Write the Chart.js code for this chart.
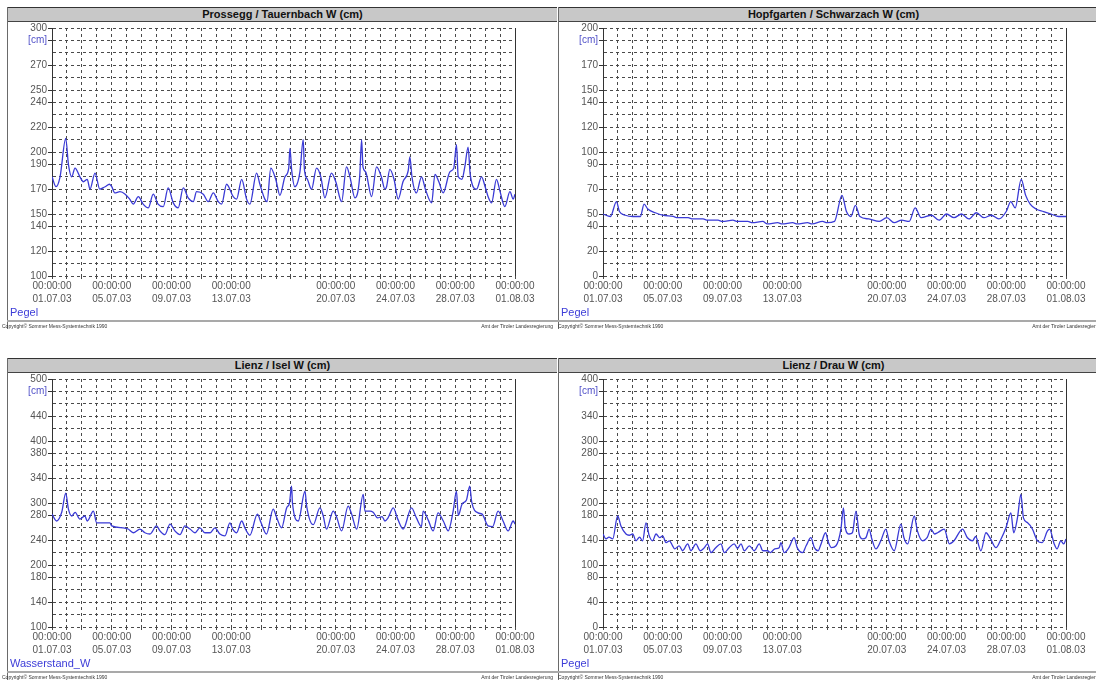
<!DOCTYPE html>
<html>
<head>
<meta charset="utf-8">
<script src="https://cdn.jsdelivr.net/npm/chart.js@4/dist/chart.umd.min.js"></script>
<style>
body { margin:0; width:1096px; height:680px; overflow:hidden; background:#fff; position:relative; font-family:"Liberation Sans", Arial, sans-serif; }
.panel { position:absolute; width:550px; height:322px; border-left:1px solid #6a6a6a; box-sizing:border-box; }
.bar { position:absolute; left:0; top:0; width:100%; height:15px; background:#c8c8c8; border-top:1px solid #333; border-bottom:1px solid #444; box-sizing:border-box; font-weight:bold; font-size:11px; line-height:13px; text-align:center; color:#111; }
.panel canvas { position:absolute; left:0; top:14px; }
.series { position:absolute; left:2px; top:299px; font-size:11px; color:#3c3cd8; }
.foot { position:absolute; left:-1px; top:313px; width:551px; border-top:2px solid #a9a9a9; }
.copy { position:absolute; top:316px; font-size:5px; line-height:6px; color:#333; white-space:nowrap; }
</style>
</head>
<body>

<div class="panel" style="left:7px; top:7px;">
  <div class="bar">Prossegg / Tauernbach W (cm)</div>
  <canvas id="c1" width="549" height="288"></canvas>
  <div class="series">Pegel</div>
  <div class="foot"></div>
  <div class="copy" style="left:-6px;">Copyright© Sommer Mess-Systemtechnik 1990</div>
  <div class="copy" style="right:4px;">Amt der Tiroler Landesregierung</div>
</div>

<div class="panel" style="left:558px; top:7px;">
  <div class="bar">Hopfgarten / Schwarzach W (cm)</div>
  <canvas id="c2" width="549" height="288"></canvas>
  <div class="foot"></div>
  <div class="series">Pegel</div>
  <div class="copy" style="left:-1px;">Copyright© Sommer Mess-Systemtechnik 1990</div>
  <div class="copy" style="right:4px;">Amt der Tiroler Landesregierung</div>
</div>

<div class="panel" style="left:7px; top:358px;">
  <div class="bar">Lienz / Isel W (cm)</div>
  <canvas id="c3" width="549" height="288"></canvas>
  <div class="series">Wasserstand_W</div>
  <div class="foot"></div>
  <div class="copy" style="left:-6px;">Copyright© Sommer Mess-Systemtechnik 1990</div>
  <div class="copy" style="right:4px;">Amt der Tiroler Landesregierung</div>
</div>

<div class="panel" style="left:558px; top:358px;">
  <div class="bar">Lienz / Drau W (cm)</div>
  <canvas id="c4" width="549" height="288"></canvas>
  <div class="series">Pegel</div>
  <div class="foot"></div>
  <div class="copy" style="left:-1px;">Copyright© Sommer Mess-Systemtechnik 1990</div>
  <div class="copy" style="right:4px;">Amt der Tiroler Landesregierung</div>
</div>

<script>
// --- x axis: days since 01.07.03 00:00 ---
const dayTicks  = [0, 4, 8, 12, 19, 23, 27, 31];
const dayLabels = ['01.07.03', '05.07.03', '09.07.03', '13.07.03', '20.07.03', '24.07.03', '28.07.03', '01.08.03'];

// --- Prossegg / Tauernbach ---
const prosseggDays  = [0, 0.27, 0.54, 0.92, 1.1, 1.32, 1.54, 1.87, 2.1, 2.36, 2.54, 2.88, 3.2, 3.55, 3.85, 4.0, 4.2, 4.55, 4.9, 5.2, 5.44, 5.78, 6.1, 6.45, 6.78, 7.1, 7.45, 7.78, 8.12, 8.45, 8.79, 9.12, 9.46, 9.68, 10.13, 10.46, 10.8, 11.13, 11.36, 11.69, 12.13, 12.36, 12.7, 13.03, 13.25, 13.7, 13.92, 14.25, 14.4, 14.65, 15.0, 15.26, 15.6, 15.85, 15.93, 16.05, 16.26, 16.6, 16.82, 16.9, 17.1, 17.38, 17.71, 18.0, 18.27, 18.71, 19.0, 19.39, 19.72, 19.95, 20.28, 20.6, 20.73, 20.82, 21.0, 21.4, 21.73, 22.05, 22.29, 22.4, 22.62, 22.9, 23.18, 23.5, 23.85, 23.96, 24.1, 24.4, 24.74, 25.0, 25.42, 25.64, 25.9, 26.19, 26.64, 26.9, 27.08, 27.2, 27.45, 27.64, 27.86, 28.0, 28.43, 28.76, 29.0, 29.2, 29.43, 29.76, 30.0, 30.32, 30.66, 30.88, 31];
const prosseggLevel = [180, 172, 180, 211, 190, 180, 187, 180, 176, 178, 170, 183, 170, 172, 174, 172, 167, 168, 166, 162, 158, 164, 158, 155, 166, 158, 156, 171, 159, 155, 171, 163, 160, 168, 166, 160, 167, 160, 158, 174, 164, 162, 178, 162, 158, 183, 174, 162, 160, 187, 177, 165, 180, 187, 203, 185, 172, 184, 210, 186, 178, 170, 187, 180, 163, 183, 176, 160, 188, 180, 163, 180, 210, 188, 184, 164, 188, 180, 170, 172, 186, 178, 162, 176, 185, 196, 180, 167, 180, 170, 159, 182, 176, 167, 184, 187, 206, 180, 178, 188, 204, 182, 170, 180, 172, 164, 159, 178, 168, 156, 168, 162, 166];

// --- Hopfgarten / Schwarzach ---
const hopfDays  = [0, 0.5, 0.9, 1.1, 1.5, 2, 2.5, 2.75, 3.0, 3.5, 4, 4.7, 5, 5.7, 6, 6.7, 7, 7.7, 8, 8.7, 9, 9.7, 10, 10.7, 11, 11.7, 12, 12.7, 13, 13.7, 14, 14.7, 15, 15.5, 16, 16.3, 16.6, 16.9, 17.2, 17.8, 18.5, 19, 19.5, 20, 20.5, 20.9, 21.3, 22, 22.5, 23, 23.5, 24, 24.5, 25, 25.5, 26, 26.5, 27, 27.3, 27.6, 28, 28.3, 28.6, 29, 29.5, 30, 30.5, 31];
const hopfLevel = [50, 48, 60, 52, 49, 48, 48, 58, 54, 51, 49, 48, 47, 47, 46, 46, 45, 45, 44, 45, 44, 44, 43, 44, 42, 43, 42, 43, 42, 43, 42, 44, 43, 44, 65, 52, 48, 57, 48, 46, 44, 47, 43, 45, 44, 55, 47, 49, 45, 50, 47, 50, 46, 51, 47, 49, 46, 52, 60, 55, 78, 65, 58, 54, 52, 50, 48, 48];

// --- Lienz / Isel ---
const iselDays  = [0, 0.31, 0.65, 0.92, 1.1, 1.32, 1.55, 1.87, 2.2, 2.36, 2.77, 2.99, 3.88, 4.0, 4.77, 5.1, 5.44, 5.89, 6.22, 6.56, 7.0, 7.23, 7.56, 7.9, 8.23, 8.57, 8.9, 9.24, 9.57, 9.9, 10.24, 10.58, 10.91, 11.24, 11.58, 11.91, 12.1, 12.36, 12.7, 12.95, 13.25, 13.75, 14.0, 14.36, 14.81, 15.05, 15.37, 15.71, 15.9, 16.04, 16.1, 16.49, 16.94, 17.05, 17.49, 17.94, 18.15, 18.38, 18.83, 19.05, 19.39, 19.83, 20.05, 20.4, 20.84, 20.95, 21.3, 21.5, 21.8, 22.1, 22.29, 22.5, 22.85, 23.15, 23.51, 24.07, 24.4, 24.74, 24.85, 25.2, 25.52, 25.85, 26.2, 26.53, 26.86, 27.08, 27.2, 27.45, 27.75, 27.97, 28.1, 28.53, 28.8, 29.2, 29.5, 29.87, 30.2, 30.54, 30.88, 31];
const iselLevel = [282, 271, 285, 316, 290, 279, 285, 274, 279, 271, 287, 268, 268, 263, 260, 258, 252, 258, 252, 250, 263, 255, 249, 266, 255, 249, 263, 258, 252, 260, 252, 252, 260, 250, 247, 268, 258, 252, 271, 258, 248, 282, 268, 250, 290, 276, 260, 292, 300, 327, 300, 271, 319, 295, 265, 292, 280, 258, 287, 278, 255, 295, 283, 258, 314, 287, 287, 285, 276, 278, 271, 276, 292, 274, 258, 292, 276, 262, 287, 272, 255, 284, 271, 255, 287, 319, 280, 298, 305, 327, 302, 284, 282, 263, 262, 287, 271, 255, 271, 266];

// --- Lienz / Drau ---
const drauDays  = [0, 0.2, 0.4, 0.65, 0.98, 1.2, 1.54, 1.75, 1.99, 2.21, 2.45, 2.65, 2.88, 3.1, 3.32, 3.55, 3.8, 4.0, 4.22, 4.45, 4.66, 4.8, 5.1, 5.33, 5.67, 5.89, 6.22, 6.5, 6.75, 7.0, 7.23, 7.55, 7.9, 8.12, 8.45, 8.79, 9.0, 9.24, 9.46, 9.8, 10.13, 10.46, 10.7, 11.02, 11.2, 11.5, 11.8, 11.91, 12.13, 12.45, 12.8, 13.0, 13.36, 13.6, 13.92, 14.15, 14.4, 14.6, 14.9, 15.1, 15.3, 15.6, 15.93, 16.1, 16.22, 16.48, 16.7, 16.94, 17.15, 17.38, 17.6, 17.82, 18.0, 18.27, 18.6, 18.94, 19.15, 19.5, 19.95, 20.15, 20.4, 20.84, 21.05, 21.4, 21.7, 21.96, 22.2, 22.4, 22.85, 23.19, 23.5, 24.07, 24.4, 24.74, 24.95, 25.3, 25.64, 25.95, 26.31, 26.65, 26.98, 27.31, 27.5, 27.75, 27.98, 28.15, 28.43, 28.75, 29.09, 29.4, 29.76, 29.9, 30.21, 30.4, 30.65, 30.85, 31];
const drauLevel = [150, 142, 145, 142, 179, 163, 150, 148, 150, 139, 145, 139, 168, 147, 139, 150, 144, 147, 136, 139, 131, 126, 131, 123, 134, 123, 134, 123, 127, 134, 120, 128, 134, 120, 128, 134, 127, 134, 123, 131, 123, 134, 123, 123, 120, 126, 128, 136, 120, 128, 144, 128, 120, 131, 144, 128, 123, 134, 152, 136, 128, 131, 158, 192, 160, 150, 152, 187, 150, 142, 144, 158, 142, 126, 139, 158, 139, 123, 166, 144, 134, 179, 155, 139, 144, 158, 150, 152, 158, 134, 139, 158, 144, 139, 146, 123, 152, 142, 128, 142, 160, 184, 152, 176, 214, 176, 168, 158, 139, 136, 155, 158, 134, 126, 139, 134, 142];

// --- y axes: labelled values (the row below the top shows the unit) ---
const prosseggTicks = [300, 270, 250, 240, 220, 200, 190, 170, 150, 140, 120, 100];
const hopfTicks     = [200, 170, 150, 140, 120, 100, 90, 70, 50, 40, 20, 0];
const iselTicks     = [500, 440, 400, 380, 340, 300, 280, 240, 200, 180, 140, 100];
const drauTicks     = [400, 340, 300, 280, 240, 200, 180, 140, 100, 80, 40, 0];

const LINE  = '#3a3ad6';
const GRID  = '#4a4a4a';
const TEXT  = '#555';
const FONT  = { family: '"Liberation Sans", Arial, sans-serif', size: 10 };

// right edge of the plot is a solid line
const rightEdge = {
    id: 'rightEdge',
    afterDraw(chart) {
        const { ctx, chartArea: a } = chart;
        ctx.save();
        ctx.strokeStyle = '#333';
        ctx.lineWidth = 1;
        ctx.beginPath();
        ctx.moveTo(Math.round(a.right) + 0.5, a.top);
        ctx.lineTo(Math.round(a.right) + 0.5, a.bottom);
        ctx.stroke();
        ctx.restore();
    }
};

function makeChart(id, days, level, min, max, step, labelled) {
    const unitValue = max - step;
    const isLabelled = v => labelled.includes(Math.round(v)) || Math.round(v) === unitValue;
    const points = days.map((d, i) => ({ x: d, y: level[i] }));

    new Chart(document.getElementById(id), {
        type: 'line',
        data: { datasets: [{ data: points, borderColor: LINE, borderWidth: 1.3, pointRadius: 0, cubicInterpolationMode: 'monotone', fill: false }] },
        options: {
            responsive: false,
            animation: false,
            devicePixelRatio: 1,
            layout: { autoPadding: false, padding: { top: 4, right: 42, left: 0, bottom: 0 } },
            plugins: { legend: { display: false }, tooltip: { enabled: false } },
            scales: {
                x: {
                    type: 'linear', min: 0, max: 31,
                    afterFit: s => { s.height = 33; },
                    border: { display: false, dash: [3, 3] },
                    grid: { color: GRID, lineWidth: 1, tickLength: 3, tickColor: GRID },
                    ticks: {
                        stepSize: 1, autoSkip: false, maxRotation: 0, minRotation: 0, padding: 1,
                        color: TEXT, font: { ...FONT, lineHeight: 1.3 },
                        callback: v => {
                            const k = dayTicks.indexOf(Math.round(v));
                            return k >= 0 ? ['00:00:00', dayLabels[k]] : '';
                        }
                    }
                },
                y: {
                    min, max,
                    afterFit: s => { s.width = 44; },
                    border: { display: true, color: '#333', width: 1, dash: [3, 3] },
                    grid: {
                        color: GRID, lineWidth: 1, tickLength: 4,
                        tickColor: c => isLabelled(c.tick.value) ? '#333' : 'rgba(0,0,0,0)'
                    },
                    ticks: {
                        stepSize: step, autoSkip: false, padding: 1, font: FONT,
                        color: c => Math.round(c.tick.value) === unitValue ? '#5050c8' : TEXT,
                        callback: v => {
                            v = Math.round(v);
                            if (v === unitValue) return '[cm]';
                            return labelled.includes(v) ? String(v) : '';
                        }
                    }
                }
            }
        },
        plugins: [rightEdge]
    });
}

makeChart('c1', prosseggDays, prosseggLevel, 100, 300, 10, prosseggTicks);
makeChart('c2', hopfDays, hopfLevel, 0, 200, 10, hopfTicks);
makeChart('c3', iselDays, iselLevel, 100, 500, 20, iselTicks);
makeChart('c4', drauDays, drauLevel, 0, 400, 20, drauTicks);
</script>
</body>
</html>
